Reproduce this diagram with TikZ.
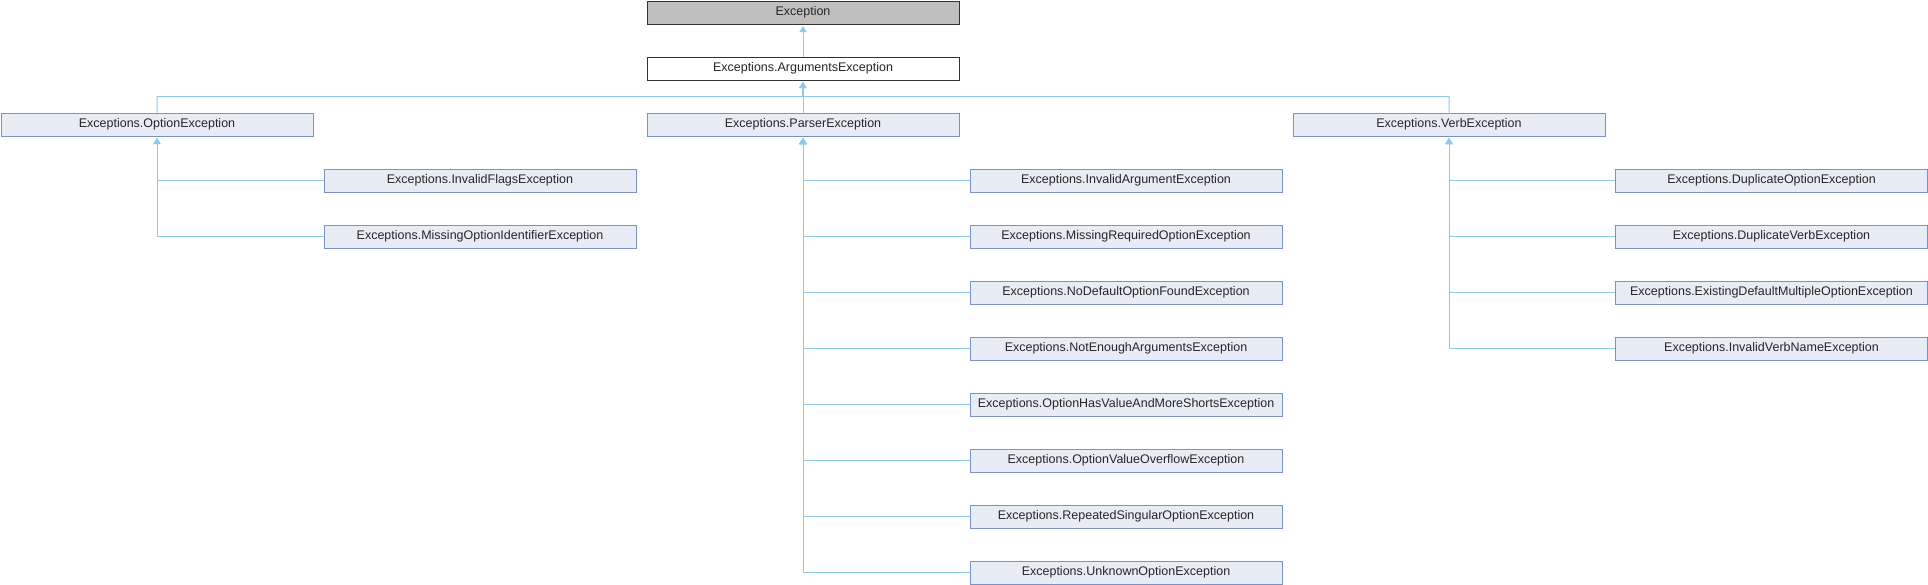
\documentclass[tikz,border=0pt]{standalone}
\usepackage{fontspec}
\setmainfont{Liberation Sans}
\usetikzlibrary{arrows.meta}
\definecolor{boxfill}{HTML}{E8ECF5}
\definecolor{boxdraw}{HTML}{7B92C6}
\definecolor{edgecol}{HTML}{8EC8EA}
\definecolor{rootfill}{HTML}{BFBFBF}
\tikzset{
  cls/.style={draw=boxdraw, fill=boxfill, line width=1pt, rectangle, anchor=north west,
    minimum width=312pt, minimum height=23pt, inner sep=0pt,
    font=\fontsize{12.5}{15}\selectfont, text=black!85},
  rootcls/.style={cls, draw=black!80, fill=rootfill},
  argcls/.style={cls, draw=black!80, fill=white},
  inh/.style={draw=edgecol, line width=1pt, -{Triangle[length=6pt,width=7pt]}, shorten >=1.5pt}
}
\begin{document}
\begin{tikzpicture}[x=1pt,y=-1pt]
\useasboundingbox (0,0) rectangle (1928,584);
% top
\node[rootcls] (exc) at (646.5,0.5) {Exception};
\node[argcls] (args) at (646.5,56.5) {Exceptions.ArgumentsException};
% row 1
\node[cls] (opt) at (0.5,112.5) {Exceptions.OptionException};
\node[cls] (par) at (646.5,112.5) {Exceptions.ParserException};
\node[cls] (verb) at (1292.5,112.5) {Exceptions.VerbException};
% option children
\node[cls] (o1) at (323.5,168.5) {Exceptions.InvalidFlagsException};
\node[cls] (o2) at (323.5,224.5) {Exceptions.MissingOptionIdentifierException};
% parser children
\node[cls] (p1) at (969.5,168.5) {Exceptions.InvalidArgumentException};
\node[cls] (p2) at (969.5,224.5) {Exceptions.MissingRequiredOptionException};
\node[cls] (p3) at (969.5,280.5) {Exceptions.NoDefaultOptionFoundException};
\node[cls] (p4) at (969.5,336.5) {Exceptions.NotEnoughArgumentsException};
\node[cls] (p5) at (969.5,392.5) {Exceptions.OptionHasValueAndMoreShortsException};
\node[cls] (p6) at (969.5,448.5) {Exceptions.OptionValueOverflowException};
\node[cls] (p7) at (969.5,504.5) {Exceptions.RepeatedSingularOptionException};
\node[cls] (p8) at (969.5,560.5) {Exceptions.UnknownOptionException};
% verb children
\node[cls] (v1) at (1615,168.5) {Exceptions.DuplicateOptionException};
\node[cls] (v2) at (1615,224.5) {Exceptions.DuplicateVerbException};
\node[cls] (v3) at (1615,280.5) {Exceptions.ExistingDefaultMultipleOptionException};
\node[cls] (v4) at (1615,336.5) {Exceptions.InvalidVerbNameException};
% bus
\coordinate (bus) at (802.5,96.5);
% edges
\draw[inh] (args.north) -- (exc.south);
\draw[inh] (par.north) -- (args.south);
\draw[inh] (opt.north) |- (bus) -- (args.south);
\draw[inh] (verb.north) |- (bus) -- (args.south);
\foreach \c in {o1,o2} { \draw[inh] (\c.west) -| (opt.south); }
\foreach \c in {p1,p2,p3,p4,p5,p6,p7,p8} { \draw[inh] (\c.west) -| (par.south); }
\foreach \c in {v1,v2,v3,v4} { \draw[inh] (\c.west) -| (verb.south); }
\end{tikzpicture}
\end{document}
